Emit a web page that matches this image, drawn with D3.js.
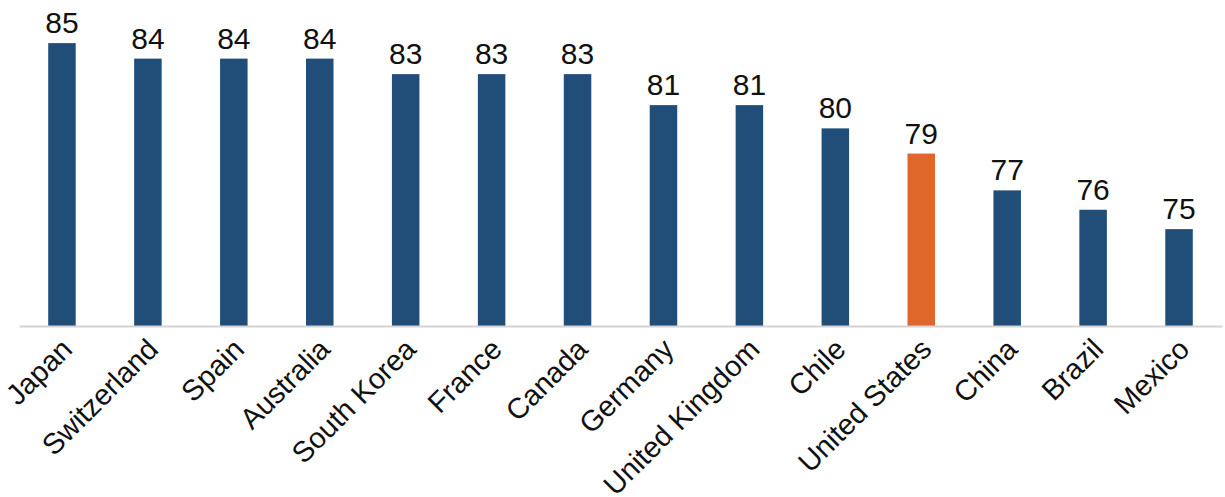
<!DOCTYPE html>
<html>
  <head>
    <meta charset="utf-8">
    <title>Life expectancy by country</title>
    <script src="https://d3js.org/d3.v7.min.js"></script>
    <style>
      body { margin: 0; background: #fff; }
      svg { display: block; font-family: "Liberation Sans", Arial, Helvetica, sans-serif; }
      .value { font-size: 30px; fill: #111; text-anchor: middle; }
      .country { font-size: 29px; fill: #111; text-anchor: end; }
    </style>
  </head>
  <body>
    <svg id="chart" width="1225" height="497"></svg>
    <script>
      // chart data
      var countries = ["Japan", "Switzerland", "Spain", "Australia", "South Korea", "France", "Canada",
                       "Germany", "United Kingdom", "Chile", "United States", "China", "Brazil", "Mexico"];
      var values = [84.6, 83.8, 83.8, 83.8, 83.0, 83.0, 83.0, 81.4, 81.4, 80.2, 78.9, 77.0, 76.0, 75.0];
      var highlight = ["United States"];
      var yDomain = [70, 86];

      var data = countries.map(function(c, i) { return { country: c, value: values[i] }; });

      var svg = d3.select("#chart");
      var margin = { left: 19, right: 3, top: 16, bottom: 171 };
      var width = 1225, height = 497;
      var baseline = height - margin.bottom;

      var x = d3.scaleBand()
        .domain(countries)
        .range([margin.left, width - margin.right])
        .paddingInner(0.68)
        .paddingOuter(0.34);
      var y = d3.scaleLinear()
        .domain(yDomain)
        .range([baseline, margin.top]);

      // bars
      svg.selectAll(".bar")
          .data(data)
        .enter().append("rect")
          .attr("class", "bar")
          .attr("x", function(d) { return x(d.country); })
          .attr("width", x.bandwidth())
          .attr("y", function(d) { return y(d.value); })
          .attr("height", function(d) { return baseline - y(d.value); })
          .attr("fill", function(d) { return highlight.indexOf(d.country) >= 0 ? "#e0672a" : "#214d79"; });

      // value labels
      svg.selectAll(".value")
          .data(data)
        .enter().append("text")
          .attr("class", "value")
          .attr("x", function(d) { return x(d.country) + x.bandwidth() / 2; })
          .attr("y", function(d) { return y(d.value) - 10; })
          .text(function(d) { return d3.format(".0f")(d.value); });

      // x axis
      var axis = d3.axisBottom(x).tickSize(0).tickSizeOuter(0);
      var axisGroup = svg.append("g")
        .attr("transform", "translate(0," + baseline + ")")
        .call(axis);
      axisGroup.select(".domain")
        .attr("stroke", "#d3d3d3")
        .attr("stroke-width", 2);
      axisGroup.selectAll(".tick text")
        .attr("class", "country")
        .attr("font-family", null)
        .attr("font-size", null)
        .attr("fill", null)
        .attr("dy", null)
        .attr("y", 0)
        .attr("transform", "translate(12,25) rotate(-45)");
    </script>
  </body>
</html>
